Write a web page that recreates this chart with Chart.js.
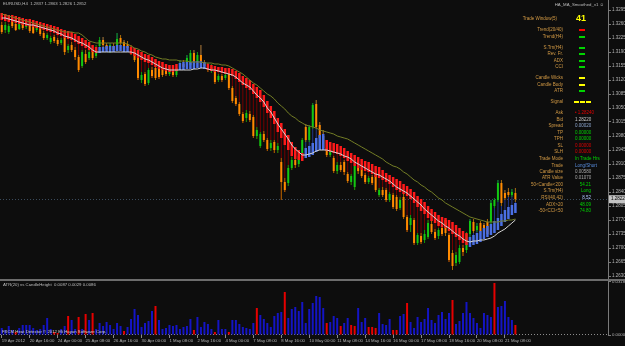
<!DOCTYPE html>
<html>
<head>
<meta charset="utf-8">
<title>EURUSD H4</title>
<script src="https://cdn.jsdelivr.net/npm/chart.js@4.4.1/dist/chart.umd.min.js"></script>
<style>
  html, body { margin: 0; padding: 0; background: #0d0d0d; }
  #wrap { position: relative; width: 625px; height: 346px; overflow: hidden; background: #0d0d0d; }
  #main { position: absolute; left: 0; top: 0; }
  #sub { position: absolute; left: 0; top: 281px; }
  #split { position: absolute; left: 0; top: 279px; width: 625px; height: 2px; background: #6c6c6c; }
</style>
</head>
<body>
<div id="wrap">
  <canvas id="main" width="625" height="279"></canvas>
  <div id="split"></div>
  <canvas id="sub" width="625" height="65"></canvas>
</div>
<script>
// ---- data (H4 bars, 19 Apr - 21 May 2012) ----
const dateTicks = ["19 Apr 2012", "20 Apr 16:00", "24 Apr 00:00", "25 Apr 08:00", "26 Apr 16:00",
  "30 Apr 00:00", "1 May 08:00", "2 May 16:00", "4 May 00:00", "7 May 08:00", "8 May 16:00",
  "10 May 00:00", "11 May 08:00", "14 May 16:00", "16 May 00:00", "17 May 08:00", "18 May 16:00",
  "20 May 08:00", "21 May 08:00"];

const priceTicks = [1.3295, 1.326, 1.3225, 1.319, 1.3155, 1.312, 1.3085, 1.305, 1.3015, 1.298,
  1.2945, 1.291, 1.2875, 1.284, 1.2805, 1.277, 1.2735, 1.27, 1.2665, 1.263];
const heatTicks = [0, 0.0318];

const openP = [
  1.32575, 1.3245, 1.324, 1.327, 1.326, 1.32475, 1.32625, 1.32525, 1.32575, 1.326,
  1.3245, 1.32525, 1.32375, 1.3225, 1.3215, 1.32275, 1.322, 1.32125, 1.3225, 1.3195,
  1.32075, 1.3195, 1.31775, 1.3155, 1.3185, 1.3175, 1.3195, 1.318, 1.3205, 1.322,
  1.32075, 1.3195, 1.3205, 1.32, 1.3225, 1.3215, 1.321, 1.32, 1.319, 1.3175,
  1.312, 1.3135, 1.31125, 1.3145, 1.315, 1.31475, 1.3145, 1.315, 1.3135, 1.31425,
  1.31325, 1.315, 1.316, 1.3155, 1.31575, 1.31875, 1.3165, 1.31825, 1.31625, 1.3155,
  1.3145, 1.3145, 1.312, 1.313, 1.3125, 1.3135, 1.31, 1.3075, 1.306, 1.3035,
  1.3025, 1.3035, 1.30275, 1.298, 1.2955, 1.2985, 1.297, 1.295, 1.2965, 1.2945,
  1.2915, 1.2865, 1.28625, 1.29, 1.292, 1.291, 1.293, 1.30025, 1.297, 1.30025,
  1.306, 1.30075, 1.298, 1.295, 1.29325, 1.2925, 1.28925, 1.29075, 1.2915, 1.2885,
  1.2865, 1.28525, 1.2905, 1.2895, 1.28825, 1.2865, 1.28775, 1.28875, 1.28325, 1.2845,
  1.2845, 1.282, 1.28325, 1.28275, 1.28, 1.28275, 1.27775, 1.27575, 1.277, 1.27125,
  1.273, 1.272, 1.27275, 1.276, 1.274, 1.273, 1.275, 1.277, 1.27325, 1.26875,
  1.26625, 1.2665, 1.27, 1.2695, 1.2735, 1.2765, 1.2745, 1.27625, 1.27575, 1.2765,
  1.2765, 1.2805, 1.282, 1.28625, 1.28375, 1.284, 1.28325, 1.28375];

const highP = [
  1.3265, 1.3265, 1.326, 1.3275, 1.32675, 1.3265, 1.327, 1.3265, 1.3265, 1.3265,
  1.326, 1.32575, 1.32425, 1.32375, 1.323, 1.32325, 1.3225, 1.3225, 1.323, 1.321,
  1.3215, 1.32025, 1.31825, 1.3195, 1.3195, 1.3195, 1.32, 1.32075, 1.32275, 1.32275,
  1.32125, 1.32125, 1.32125, 1.32375, 1.32325, 1.322, 1.32175, 1.32075, 1.3195, 1.318,
  1.314, 1.314, 1.315, 1.31525, 1.3155, 1.3155, 1.3155, 1.31575, 1.3155, 1.315,
  1.3155, 1.317, 1.317, 1.31825, 1.3195, 1.3195, 1.319, 1.32075, 1.317, 1.31625,
  1.316, 1.315, 1.3135, 1.3135, 1.314, 1.314, 1.3105, 1.308, 1.3065, 1.304,
  1.3045, 1.30425, 1.30325, 1.30025, 1.299, 1.29925, 1.2975, 1.297, 1.297, 1.29625,
  1.2925, 1.2875, 1.29075, 1.29275, 1.29275, 1.2935, 1.2975, 1.301, 1.30075, 1.30625,
  1.307, 1.3015, 1.2995, 1.29575, 1.295, 1.293, 1.2915, 1.2915, 1.292, 1.289,
  1.2885, 1.291, 1.29125, 1.29, 1.28875, 1.288, 1.28825, 1.28925, 1.285, 1.28525,
  1.285, 1.284, 1.28375, 1.28325, 1.28275, 1.28375, 1.27825, 1.27825, 1.2775, 1.27375,
  1.27375, 1.2745, 1.277, 1.27675, 1.27475, 1.275, 1.27575, 1.2775, 1.27375, 1.2695,
  1.269, 1.27075, 1.27075, 1.274, 1.27725, 1.27725, 1.27625, 1.27675, 1.27625, 1.27725,
  1.282, 1.2825, 1.287, 1.287, 1.2845, 1.285, 1.28475, 1.285];

const lowP = [
  1.3235, 1.32375, 1.3235, 1.325, 1.32425, 1.3245, 1.3245, 1.32475, 1.32375, 1.3235,
  1.324, 1.323, 1.322, 1.322, 1.321, 1.32125, 1.3205, 1.32075, 1.31825, 1.31875,
  1.319, 1.317, 1.314, 1.315, 1.316, 1.317, 1.317, 1.3175, 1.32, 1.32025,
  1.319, 1.31875, 1.319, 1.3195, 1.32075, 1.32, 1.3195, 1.31825, 1.3165, 1.312,
  1.31125, 1.3105, 1.31075, 1.3125, 1.312, 1.31225, 1.31275, 1.313, 1.313, 1.31275,
  1.31275, 1.3145, 1.31475, 1.315, 1.3155, 1.31575, 1.316, 1.3155, 1.315, 1.314,
  1.31375, 1.311, 1.3115, 1.3115, 1.312, 1.3095, 1.30625, 1.3055, 1.303, 1.30125,
  1.3015, 1.3015, 1.2975, 1.29725, 1.295, 1.2965, 1.29425, 1.29425, 1.29375, 1.29375,
  1.282, 1.284, 1.2855, 1.2895, 1.29, 1.29025, 1.292, 1.2965, 1.2965, 1.29975,
  1.29975, 1.297, 1.2945, 1.29275, 1.29275, 1.28875, 1.2885, 1.289, 1.28825, 1.28625,
  1.28575, 1.2845, 1.2885, 1.2875, 1.286, 1.286, 1.28575, 1.284, 1.28275, 1.28275,
  1.2815, 1.2815, 1.27975, 1.27925, 1.2795, 1.27725, 1.274, 1.274, 1.27075, 1.27075,
  1.271, 1.27125, 1.27225, 1.2735, 1.272, 1.27225, 1.273, 1.273, 1.2665, 1.2645,
  1.2655, 1.266, 1.268, 1.26875, 1.27275, 1.27375, 1.274, 1.27375, 1.2735, 1.273,
  1.276, 1.28, 1.2815, 1.2805, 1.282, 1.28275, 1.28275, 1.2815];

const closeP = [
  1.324, 1.32575, 1.3255, 1.3255, 1.3245, 1.326, 1.325, 1.326, 1.32425, 1.32375,
  1.3255, 1.3235, 1.3225, 1.32325, 1.3225, 1.32175, 1.321, 1.322, 1.319, 1.3205,
  1.3195, 1.31775, 1.3145, 1.319, 1.3165, 1.319, 1.3175, 1.32, 1.322, 1.32075,
  1.31975, 1.32075, 1.3195, 1.32225, 1.32125, 1.3205, 1.32, 1.319, 1.317, 1.3125,
  1.31325, 1.311, 1.3145, 1.313, 1.3125, 1.31275, 1.31325, 1.3135, 1.3145, 1.31325,
  1.315, 1.316, 1.31525, 1.3175, 1.31875, 1.31625, 1.31825, 1.31625, 1.3155, 1.3145,
  1.31525, 1.3115, 1.313, 1.312, 1.31325, 1.31, 1.30675, 1.306, 1.3035, 1.30175,
  1.30375, 1.302, 1.298, 1.2995, 1.2985, 1.297, 1.29475, 1.29625, 1.2945, 1.2955,
  1.2865, 1.2845, 1.29, 1.292, 1.29075, 1.293, 1.297, 1.297, 1.30025, 1.30575,
  1.30025, 1.2975, 1.295, 1.29325, 1.2945, 1.28925, 1.29075, 1.2895, 1.289, 1.28675,
  1.288, 1.2905, 1.28925, 1.288, 1.2865, 1.2875, 1.28625, 1.2845, 1.2845, 1.28325,
  1.282, 1.2835, 1.28025, 1.27975, 1.282, 1.27775, 1.2745, 1.2775, 1.27125, 1.27325,
  1.2715, 1.2735, 1.27625, 1.274, 1.2725, 1.2745, 1.2735, 1.27375, 1.267, 1.2655,
  1.26825, 1.27, 1.269, 1.2735, 1.27675, 1.27425, 1.2755, 1.27425, 1.274, 1.2735,
  1.28125, 1.282, 1.28625, 1.28125, 1.2825, 1.28325, 1.284, 1.2822];

// smoothed Heiken Ashi (open / close)
const haOpen = [
  1.32875, 1.3285, 1.32825, 1.32825, 1.328, 1.32775, 1.3275, 1.32725, 1.32725, 1.327,
  1.32675, 1.3265, 1.32625, 1.326, 1.32575, 1.3255, 1.32525, 1.32475, 1.3245, 1.32425,
  1.324, 1.3235, 1.323, 1.3225, 1.322, 1.3215, 1.32075, 1.32025, 1.31875, 1.319,
  1.319, 1.319, 1.319, 1.31925, 1.31925, 1.319, 1.319, 1.32025, 1.32, 1.3195,
  1.319, 1.3185, 1.31825, 1.31775, 1.31725, 1.31675, 1.3165, 1.316, 1.31575, 1.31575,
  1.316, 1.3145, 1.3145, 1.31475, 1.31475, 1.31475, 1.315, 1.315, 1.31475, 1.316,
  1.31575, 1.3155, 1.31525, 1.31525, 1.315, 1.315, 1.31475, 1.31425, 1.31375, 1.313,
  1.3125, 1.312, 1.311, 1.31025, 1.3095, 1.30825, 1.30675, 1.3055, 1.30425, 1.3025,
  1.30125, 1.29975, 1.29825, 1.2965, 1.29525, 1.2945, 1.29375, 1.2925, 1.29275, 1.29325,
  1.294, 1.2945, 1.2945, 1.297, 1.2965, 1.29625, 1.296, 1.2955, 1.295, 1.29425,
  1.29375, 1.29325, 1.29275, 1.29225, 1.29175, 1.2915, 1.291, 1.2905, 1.29025, 1.2895,
  1.28875, 1.28825, 1.28775, 1.28725, 1.28675, 1.286, 1.2855, 1.28475, 1.284, 1.283,
  1.28225, 1.2815, 1.2805, 1.27975, 1.279, 1.27825, 1.27775, 1.2775, 1.277, 1.2765,
  1.27575, 1.275, 1.27425, 1.27375, 1.27025, 1.27075, 1.271, 1.2715, 1.27225, 1.27275,
  1.27325, 1.27375, 1.2745, 1.2755, 1.2765, 1.27725, 1.27825, 1.27875];

const haClose = [
  1.327, 1.32675, 1.3265, 1.3265, 1.32625, 1.326, 1.32575, 1.3255, 1.3255, 1.32525,
  1.325, 1.32475, 1.3245, 1.32425, 1.324, 1.32375, 1.32325, 1.323, 1.3225, 1.32225,
  1.322, 1.3215, 1.321, 1.3205, 1.32, 1.3195, 1.319, 1.31875, 1.32025, 1.32025,
  1.3205, 1.3205, 1.3205, 1.32075, 1.32075, 1.3205, 1.3205, 1.3185, 1.318, 1.3175,
  1.317, 1.3165, 1.31625, 1.31575, 1.31525, 1.31475, 1.3145, 1.31425, 1.314, 1.314,
  1.31425, 1.31625, 1.3165, 1.3165, 1.3165, 1.31675, 1.31675, 1.31675, 1.3165, 1.3145,
  1.31425, 1.314, 1.314, 1.31375, 1.3135, 1.3135, 1.313, 1.31225, 1.3115, 1.31075,
  1.31, 1.3095, 1.3085, 1.3075, 1.3065, 1.30525, 1.30375, 1.3025, 1.301, 1.299,
  1.2975, 1.29575, 1.2945, 1.293, 1.29225, 1.292, 1.29175, 1.295, 1.2955, 1.29625,
  1.2975, 1.29825, 1.2985, 1.29425, 1.294, 1.29375, 1.2935, 1.293, 1.2925, 1.29175,
  1.29125, 1.2905, 1.29, 1.2895, 1.28925, 1.289, 1.2885, 1.28775, 1.2875, 1.287,
  1.2865, 1.286, 1.28525, 1.2845, 1.284, 1.2835, 1.283, 1.28225, 1.28125, 1.28025,
  1.27925, 1.2785, 1.2775, 1.27675, 1.27625, 1.2755, 1.27525, 1.275, 1.27425, 1.2735,
  1.27275, 1.272, 1.27125, 1.27075, 1.27275, 1.27325, 1.27375, 1.27425, 1.275, 1.2755,
  1.276, 1.27675, 1.2775, 1.2785, 1.2795, 1.28025, 1.28075, 1.28125];

const maSlow = [
  1.3285, 1.32825, 1.328, 1.32775, 1.3275, 1.32725, 1.327, 1.32675, 1.3265, 1.32625,
  1.326, 1.32575, 1.3255, 1.32525, 1.325, 1.32475, 1.3245, 1.32425, 1.324, 1.324,
  1.324, 1.32375, 1.32375, 1.32325, 1.3225, 1.32175, 1.3215, 1.32125, 1.32125, 1.32125,
  1.32125, 1.32125, 1.32125, 1.32125, 1.32125, 1.32125, 1.321, 1.3205, 1.32, 1.31975,
  1.31925, 1.319, 1.3185, 1.31825, 1.31775, 1.3175, 1.31725, 1.31725, 1.317, 1.317,
  1.317, 1.31675, 1.31675, 1.31675, 1.3165, 1.3165, 1.3165, 1.3165, 1.31625, 1.31625,
  1.31625, 1.316, 1.316, 1.31575, 1.31575, 1.3155, 1.315, 1.3145, 1.314, 1.3135,
  1.31275, 1.312, 1.31125, 1.31075, 1.31, 1.30925, 1.3085, 1.308, 1.30725, 1.30625,
  1.3055, 1.30475, 1.30375, 1.303, 1.3025, 1.30175, 1.30125, 1.30075, 1.3005, 1.30025,
  1.3, 1.2995, 1.29925, 1.299, 1.29875, 1.2985, 1.298, 1.29775, 1.2975, 1.29725,
  1.29675, 1.29625, 1.29575, 1.29525, 1.29475, 1.29425, 1.29375, 1.29325, 1.29275, 1.29225,
  1.2915, 1.291, 1.2905, 1.29025, 1.28975, 1.289, 1.2885, 1.28775, 1.287, 1.2865,
  1.28575, 1.28525, 1.2845, 1.284, 1.28325, 1.2825, 1.282, 1.28125, 1.28075, 1.28025,
  1.27975, 1.27925, 1.27875, 1.27825, 1.27775, 1.2775, 1.27725, 1.277, 1.27675, 1.2765,
  1.2765, 1.2765, 1.2765, 1.27675, 1.27675, 1.277, 1.277, 1.27725];

const maFast = [
  1.3275, 1.3275, 1.32725, 1.327, 1.32675, 1.3265, 1.32625, 1.326, 1.32575, 1.32575,
  1.3255, 1.32525, 1.325, 1.32475, 1.3245, 1.32425, 1.32375, 1.3235, 1.323, 1.32275,
  1.3225, 1.322, 1.3215, 1.32125, 1.32075, 1.32025, 1.3195, 1.319, 1.319, 1.319,
  1.319, 1.319, 1.319, 1.319, 1.319, 1.319, 1.319, 1.319, 1.31875, 1.31825,
  1.31775, 1.31725, 1.317, 1.3165, 1.316, 1.3155, 1.315, 1.31475, 1.3145, 1.3145,
  1.3145, 1.3145, 1.3145, 1.3145, 1.3145, 1.31475, 1.31475, 1.315, 1.315, 1.31475,
  1.3145, 1.3145, 1.31425, 1.314, 1.31375, 1.3135, 1.31325, 1.31275, 1.312, 1.31125,
  1.31075, 1.31025, 1.30925, 1.30825, 1.3075, 1.3065, 1.305, 1.304, 1.3025, 1.301,
  1.29975, 1.2985, 1.29725, 1.29575, 1.29475, 1.294, 1.29325, 1.29325, 1.2935, 1.29375,
  1.29425, 1.2945, 1.2945, 1.2945, 1.29425, 1.294, 1.29375, 1.2935, 1.293, 1.29275,
  1.29225, 1.2915, 1.291, 1.2905, 1.29, 1.2895, 1.289, 1.2885, 1.28825, 1.28775,
  1.28725, 1.28675, 1.286, 1.28525, 1.28475, 1.28425, 1.28375, 1.283, 1.28225, 1.2815,
  1.28075, 1.27975, 1.279, 1.27825, 1.2775, 1.27675, 1.27625, 1.2755, 1.275, 1.27425,
  1.2735, 1.273, 1.27225, 1.27175, 1.2715, 1.27175, 1.27175, 1.272, 1.272, 1.27225,
  1.2725, 1.273, 1.27375, 1.27425, 1.27475, 1.2755, 1.27625, 1.277];

// lower window histogram
const heatValues = [
  0.0042, 0.003, 0.0054, 0.003, 0.0018, 0.0042, 0.006, 0.006, 0.006, 0.0042,
  0.003, 0.0036, 0.006, 0.0102, 0.0036, 0.0018, 0.0012, 0.0036, 0.0054, 0.0114,
  0.009, 0.0036, 0.0108, 0.0036, 0.0126, 0.009, 0.0132, 0.0036, 0.0072, 0.0054,
  0.0078, 0.006, 0.0036, 0.0072, 0.0054, 0.0024, 0.0048, 0.0096, 0.0156, 0.012,
  0.0048, 0.0072, 0.0084, 0.0144, 0.0174, 0.009, 0.0036, 0.0042, 0.006, 0.0054,
  0.006, 0.0036, 0.0048, 0.0054, 0.0096, 0.003, 0.0108, 0.0048, 0.0078, 0.0066,
  0.0036, 0.0018, 0.009, 0.0036, 0.0036, 0.0018, 0.009, 0.009, 0.0066, 0.0048,
  0.0042, 0.0036, 0.0072, 0.0162, 0.012, 0.0096, 0.0072, 0.0048, 0.0114, 0.0132,
  0.0138, 0.0258, 0.0102, 0.0156, 0.0168, 0.0144, 0.0198, 0.0072, 0.0156, 0.0192,
  0.0234, 0.0228, 0.0162, 0.0072, 0.0078, 0.0114, 0.0102, 0.0054, 0.0072, 0.0102,
  0.006, 0.0054, 0.0162, 0.0078, 0.0102, 0.0048, 0.0048, 0.0042, 0.0132, 0.0066,
  0.006, 0.0096, 0.003, 0.003, 0.0114, 0.0126, 0.0192, 0.0078, 0.0042, 0.0108,
  0.0078, 0.0096, 0.0162, 0.009, 0.0072, 0.012, 0.0138, 0.0096, 0.0132, 0.021,
  0.0066, 0.0084, 0.0132, 0.0198, 0.0132, 0.0102, 0.0072, 0.0042, 0.0132, 0.012,
  0.0108, 0.0312, 0.0168, 0.0174, 0.0204, 0.0108, 0.009, 0.006];
const heatRed = [4, 15, 16, 19, 22, 24, 26, 35, 44, 55, 61, 65, 73, 81, 93, 97, 100, 101,
  105, 106, 107, 112, 113, 116, 129, 141, 147];

const bidPrice = 1.2822;

// ---- chart setup ----
const FONT = '"Liberation Sans", Arial, sans-serif';
const SLOTS = 174;                 // bars plus the empty shift area on the right
const PX = 0.00025;                // price per screen pixel in the main window
const PRICE_MAX = 1.332;
const PRICE_MIN = PRICE_MAX - 279 * PX;
const HEAT_MAX = 0.0324;

const slots = Array.from({ length: SLOTS }, (_, i) => i);
const isUp = openP.map((o, i) => closeP[i] > o);
const haUp = haOpen.map((o, i) => haClose[i] > o);

const wickRange = lowP.map((l, i) => [l, highP[i]]);
const bodyRange = openP.map((o, i) => [o, closeP[i]]);
const haBody = haOpen.map((o, i) => [o, haClose[i]]);
const haRange = haOpen.map((o, i) => [
  Math.min(lowP[i], o, haClose[i]), Math.max(highP[i], o, haClose[i])]);

function tickLabel(i) {
  return i % 8 === 0 && dateTicks[i / 8] ? dateTicks[i / 8] : "";
}

const background = {
  id: "background",
  beforeDraw(chart) {
    const ctx = chart.ctx;
    ctx.save();
    ctx.fillStyle = "#0d0d0d";
    ctx.fillRect(0, 0, chart.width, chart.height);
    ctx.restore();
  },
};

const mainOverlay = {
  id: "mainOverlay",
  beforeDatasetsDraw(chart) {
    const ctx = chart.ctx;
    const y = Math.round(chart.scales.y.getPixelForValue(bidPrice)) + 0.5;
    ctx.save();
    ctx.strokeStyle = "#3b4b5c";
    ctx.setLineDash([1, 2]);
    ctx.beginPath();
    ctx.moveTo(0, y);
    ctx.lineTo(chart.chartArea.right, y);
    ctx.stroke();
    ctx.restore();
  },
  afterDraw(chart) {
    const ctx = chart.ctx;
    const area = chart.chartArea;
    ctx.save();
    ctx.textBaseline = "middle";

    // bid price box on the axis
    const by = chart.scales.y.getPixelForValue(bidPrice);
    ctx.fillStyle = "#c4c4c4";
    ctx.fillRect(area.right + 1, by - 4, 24, 8);
    ctx.fillStyle = "#000";
    ctx.font = "4.5px " + FONT;
    ctx.textAlign = "left";
    ctx.fillText(bidPrice.toFixed(5), area.right + 3, by);

    // window title and expert name
    ctx.fillStyle = "#bdbdbd";
    ctx.font = "4.3px " + FONT;
    ctx.fillText("EURUSD,H4  1.2837 1.2863 1.2826 1.2852", 3, 4);
    ctx.textAlign = "right";
    ctx.fillText("HA_MA_Smoothed_v1 \u263A", 604, 5);

    // info panel
    const LAB = "#d39a45", GRN = "#00d400", RED = "#e00000", YEL = "#ffff00";
    ctx.font = "4.5px " + FONT;
    ctx.fillStyle = LAB;
    ctx.fillText("Trade Window(5)", 557, 19);
    ctx.textAlign = "left";
    ctx.font = "bold 9px " + FONT;
    ctx.fillStyle = YEL;
    ctx.fillText("41", 576, 19);

    const dashes = [
      ["Trend(20/40)", 30, "#ff0000"], ["Trend(H4)", 37, GRN], ["S.Trn(H4)", 48, GRN],
      ["Rev. Fr.", 54, GRN], ["ADX", 61, GRN], ["CCI", 67, GRN],
      ["Candle Wicks", 78, YEL], ["Candle Body", 85, YEL], ["ATR", 91, GRN],
    ];
    ctx.font = "4.5px " + FONT;
    dashes.forEach(([t, yy, c]) => {
      ctx.textAlign = "right";
      ctx.fillStyle = LAB;
      ctx.fillText(t, 563, yy);
      ctx.fillStyle = c;
      ctx.fillRect(579, yy - 1, 6, 2);
    });
    ctx.fillStyle = LAB;
    ctx.fillText("Signal", 563, 102);
    ctx.fillStyle = YEL;
    [574, 580, 586].forEach((x) => ctx.fillRect(x, 101, 5, 2));

    const rows = [
      ["Ask", 113, "\u2022 1.28240", RED, "l"], ["Bid", 120, "1.28220", "#c8c8c8", "l"],
      ["Spread", 126, "0.00020", "#8ea8d0", "l"], ["TP", 133, "0.00000", GRN, "l"],
      ["TPH", 139, "0.00000", GRN, "l"], ["SL", 146, "0.00000", RED, "l"],
      ["SLH", 152, "0.00000", RED, "l"], ["Trade Mode", 159, "In Trade Hrs", GRN, "l"],
      ["Trade", 166, "Long/Short", "#5a8fe0", "l"], ["Candle size", 172, "0.00580", "#a8a8a8", "l"],
      ["ATR Value", 178, "0.01070", "#a8a8a8", "l"], ["50<Candle<200", 185, "54.21", GRN, "r"],
      ["S.Trn(H4)", 191, "Long", GRN, "r"], ["RSI(40,42)", 198, "8.52", "#b0c8ff", "r"],
      ["ADX>20", 205, "48.09", GRN, "r"], ["-50<CCI<50", 211, "74.80", GRN, "r"],
    ];
    rows.forEach(([t, yy, v, c, al]) => {
      ctx.textAlign = "right";
      ctx.fillStyle = LAB;
      ctx.fillText(t, 563, yy);
      ctx.fillStyle = c;
      if (al === "l") {
        ctx.textAlign = "left";
        ctx.fillText(v, 575, yy);
      } else {
        ctx.fillText(v, 591, yy);
      }
    });
    ctx.restore();
  },
};

const subOverlay = {
  id: "subOverlay",
  beforeDatasetsDraw(chart) {
    const ctx = chart.ctx;
    const y = Math.round(chart.scales.y.getPixelForValue(0)) - 0.5;
    ctx.save();
    ctx.strokeStyle = "#8c8c8c";
    ctx.setLineDash([1, 2]);
    ctx.beginPath();
    ctx.moveTo(0, y);
    ctx.lineTo(chart.chartArea.right, y);
    ctx.stroke();
    ctx.restore();
  },
  afterDatasetsDraw(chart) {
    const ctx = chart.ctx;
    ctx.save();
    ctx.textBaseline = "middle";
    ctx.textAlign = "left";
    ctx.font = "4.3px " + FONT;
    ctx.fillStyle = "#bdbdbd";
    ctx.fillText("ATR(20) vs CandleHeight  0.0087 0.0029 0.0086", 3, 4);
    ctx.fillStyle = "#d0d0d0";
    ctx.fillText("FXCM Heat Detector \u00A9 2012 Eli Hayun Software Corp.", 2, 51);
    ctx.restore();
  },
};

const common = {
  responsive: false,
  animation: false,
  devicePixelRatio: 1,
  events: [],
  layout: { padding: 0 },
  plugins: { legend: { display: false }, tooltip: { enabled: false } },
};

new Chart(document.getElementById("main"), {
  type: "bar",
  data: {
    labels: slots,
    datasets: [
      {
        label: "HA range", data: haRange, order: 6, grouped: false,
        barThickness: 1, inflateAmount: 0,
        backgroundColor: haUp.map((u) => (u ? "#22388a" : "#760000")),
      },
      {
        label: "Wick", data: wickRange, order: 5, grouped: false,
        barThickness: 1, inflateAmount: 0,
        backgroundColor: isUp.map((u) => (u ? "#0a9a0a" : "#a86a00")),
      },
      {
        label: "Body", data: bodyRange, order: 4, grouped: false,
        barThickness: 2, inflateAmount: 0, minBarLength: 1,
        backgroundColor: isUp.map((u) => (u ? "#12c812" : "#ff8a00")),
      },
      {
        label: "HA smoothed", data: haBody, order: 3, grouped: false,
        barThickness: 2.5, inflateAmount: 0,
        backgroundColor: haUp.map((u) => (u ? "#4a6fe3" : "#ff1a1a")),
      },
      {
        type: "line", label: "MA slow", data: maSlow, order: 2,
        borderColor: "#737d25", borderWidth: 1, pointRadius: 0, tension: 0,
      },
      {
        type: "line", label: "MA fast", data: maFast, order: 1,
        borderColor: "#d6d6d6", borderWidth: 1, pointRadius: 0, tension: 0,
      },
    ],
  },
  options: {
    ...common,
    scales: {
      x: { display: false, offset: true, grid: { display: false } },
      y: {
        position: "right",
        min: PRICE_MIN,
        max: PRICE_MAX,
        afterBuildTicks: (s) => { s.ticks = priceTicks.map((v) => ({ value: v })); },
        afterFit: (s) => { s.width = 17; s.paddingTop = 0; s.paddingBottom = 0; },
        border: { display: true, color: "#7a7a7a" },
        grid: { drawOnChartArea: false, drawTicks: true, tickLength: 3, color: "#7a7a7a" },
        ticks: {
          color: "#b4b4b4", padding: 1,
          font: { family: FONT, size: 4.5 },
          callback: (v) => Number(v).toFixed(5),
        },
      },
    },
  },
  plugins: [background, mainOverlay],
});

new Chart(document.getElementById("sub"), {
  type: "bar",
  data: {
    labels: slots,
    datasets: [
      {
        label: "Heat", data: heatValues, barThickness: 2, inflateAmount: 0,
        backgroundColor: heatValues.map((_, i) => (heatRed.includes(i) ? "#e60000" : "#1414c4")),
      },
    ],
  },
  options: {
    ...common,
    scales: {
      x: {
        offset: true,
        afterFit: (s) => { s.height = 11; s.paddingLeft = 0; s.paddingRight = 0; },
        border: { display: false },
        grid: {
          display: true, offset: false, drawOnChartArea: false, drawTicks: true, tickLength: 3,
          color: (ctx) => (tickLabel(ctx.index) ? "#8a8a8a" : "rgba(0,0,0,0)"),
        },
        ticks: {
          autoSkip: false, maxRotation: 0, minRotation: 0, align: "start", padding: 0,
          color: "#b4b4b4", font: { family: FONT, size: 4.3 },
          callback: (v, i) => tickLabel(i),
        },
      },
      y: {
        position: "right",
        min: 0,
        max: HEAT_MAX,
        afterBuildTicks: (s) => { s.ticks = heatTicks.map((v) => ({ value: v })); },
        afterFit: (s) => { s.width = 17; s.paddingTop = 0; s.paddingBottom = 0; },
        border: { display: true, color: "#7a7a7a" },
        grid: { drawOnChartArea: false, drawTicks: true, tickLength: 3, color: "#7a7a7a" },
        ticks: {
          color: "#b4b4b4", padding: 1,
          font: { family: FONT, size: 4.3 },
          callback: (v) => Number(v).toFixed(4),
        },
      },
    },
  },
  plugins: [background, subOverlay],
});
</script>
</body>
</html>
